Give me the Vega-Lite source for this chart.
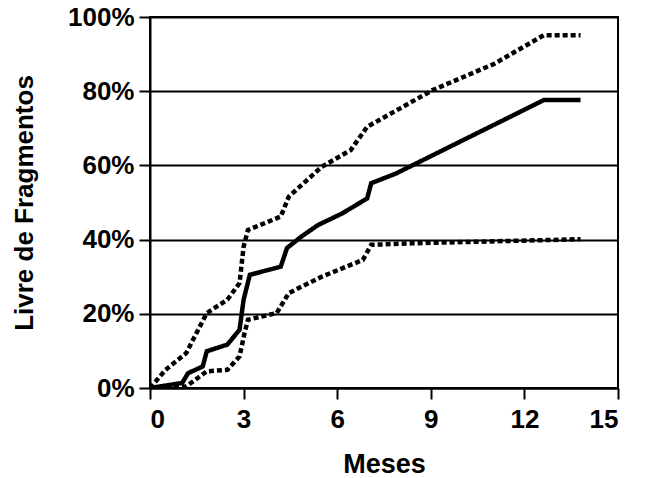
{
  "$schema": "https://vega.github.io/schema/vega-lite/v6.json",
  "width": 468,
  "height": 371,
  "autosize": {"type": "none"},
  "padding": {"left": 150, "top": 17, "right": 29, "bottom": 90},
  "background": "white",
  "config": {
    "view": {"stroke": "black", "strokeWidth": 2},
    "font": "Liberation Sans"
  },
  "data": {
    "values": [
      {"m": 0, "p": 0, "s": "media"},
      {"m": 1.03, "p": 0.0135, "s": "media"},
      {"m": 1.22, "p": 0.04, "s": "media"},
      {"m": 1.69, "p": 0.058, "s": "media"},
      {"m": 1.82, "p": 0.099, "s": "media"},
      {"m": 2.48, "p": 0.117, "s": "media"},
      {"m": 2.87, "p": 0.157, "s": "media"},
      {"m": 3.0, "p": 0.238, "s": "media"},
      {"m": 3.2, "p": 0.305, "s": "media"},
      {"m": 4.19, "p": 0.327, "s": "media"},
      {"m": 4.39, "p": 0.377, "s": "media"},
      {"m": 4.85, "p": 0.408, "s": "media"},
      {"m": 5.38, "p": 0.439, "s": "media"},
      {"m": 6.17, "p": 0.471, "s": "media"},
      {"m": 6.96, "p": 0.511, "s": "media"},
      {"m": 7.09, "p": 0.552, "s": "media"},
      {"m": 7.88, "p": 0.578, "s": "media"},
      {"m": 12.62, "p": 0.776, "s": "media"},
      {"m": 13.8, "p": 0.776, "s": "media"},
      {"m": 0, "p": 0, "s": "superior"},
      {"m": 0.5, "p": 0.049, "s": "superior"},
      {"m": 1.16, "p": 0.094, "s": "superior"},
      {"m": 1.82, "p": 0.202, "s": "superior"},
      {"m": 2.48, "p": 0.238, "s": "superior"},
      {"m": 2.87, "p": 0.283, "s": "superior"},
      {"m": 3.0, "p": 0.381, "s": "superior"},
      {"m": 3.14, "p": 0.426, "s": "superior"},
      {"m": 4.19, "p": 0.462, "s": "superior"},
      {"m": 4.45, "p": 0.516, "s": "superior"},
      {"m": 5.5, "p": 0.596, "s": "superior"},
      {"m": 6.43, "p": 0.641, "s": "superior"},
      {"m": 6.96, "p": 0.704, "s": "superior"},
      {"m": 9.06, "p": 0.803, "s": "superior"},
      {"m": 11.04, "p": 0.874, "s": "superior"},
      {"m": 12.62, "p": 0.951, "s": "superior"},
      {"m": 13.8, "p": 0.951, "s": "superior"},
      {"m": 0, "p": 0, "s": "inferior"},
      {"m": 1.16, "p": 0.004, "s": "inferior"},
      {"m": 1.82, "p": 0.045, "s": "inferior"},
      {"m": 2.48, "p": 0.049, "s": "inferior"},
      {"m": 2.87, "p": 0.085, "s": "inferior"},
      {"m": 3.03, "p": 0.148, "s": "inferior"},
      {"m": 3.14, "p": 0.184, "s": "inferior"},
      {"m": 4.06, "p": 0.202, "s": "inferior"},
      {"m": 4.45, "p": 0.256, "s": "inferior"},
      {"m": 5.5, "p": 0.3, "s": "inferior"},
      {"m": 6.82, "p": 0.345, "s": "inferior"},
      {"m": 7.09, "p": 0.386, "s": "inferior"},
      {"m": 8.4, "p": 0.39, "s": "inferior"},
      {"m": 13.8, "p": 0.401, "s": "inferior"}
    ]
  },
  "mark": {"type": "line", "color": "black", "strokeWidth": 4.5, "clip": true},
  "encoding": {
    "x": {
      "field": "m",
      "type": "quantitative",
      "scale": {"domain": [0, 15], "nice": false},
      "axis": {
        "values": [0, 3, 6, 9, 12, 15],
        "title": "Meses",
        "titleFontSize": 27,
        "titleFontWeight": "bold",
        "titlePadding": 19,
        "labelFontSize": 26,
        "labelFontWeight": "bold",
        "labelColor": "black",
        "titleColor": "black",
        "domainColor": "black",
        "domainWidth": 2,
        "tickColor": "black",
        "tickWidth": 2,
        "tickSize": 11,
        "labelPadding": 7,
        "grid": false
      }
    },
    "y": {
      "field": "p",
      "type": "quantitative",
      "scale": {"domain": [0, 1], "nice": false},
      "axis": {
        "values": [0, 0.2, 0.4, 0.6, 0.8, 1],
        "format": ".0%",
        "title": "Livre de Fragmentos",
        "titleFontSize": 26,
        "titleFontWeight": "bold",
        "titlePadding": 30,
        "labelFontSize": 26,
        "labelFontWeight": "bold",
        "labelColor": "black",
        "titleColor": "black",
        "domainColor": "black",
        "domainWidth": 2,
        "tickColor": "black",
        "tickWidth": 2,
        "tickSize": 11,
        "labelPadding": 5,
        "grid": true,
        "gridColor": "black",
        "gridWidth": 2,
        "gridOpacity": 1
      }
    },
    "detail": {"field": "s"},
    "strokeDash": {
      "field": "s",
      "type": "nominal",
      "scale": {"domain": ["media", "superior", "inferior"], "range": [[1, 0], [5, 3], [5, 3]]},
      "legend": null
    }
  }
}
